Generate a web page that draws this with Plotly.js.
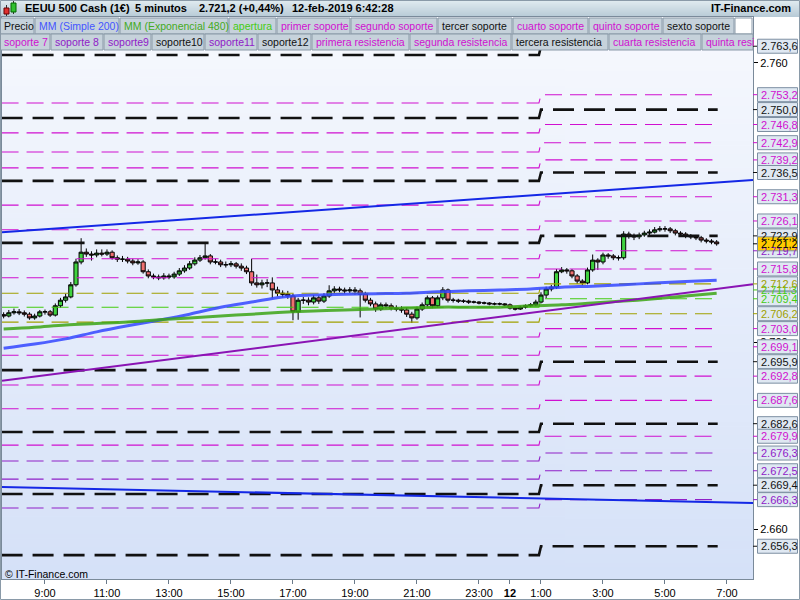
<!DOCTYPE html>
<html><head><meta charset="utf-8">
<script src="https://cdn.plot.ly/plotly-3.0.1.min.js"></script>
<style>html,body{margin:0;padding:0;background:#fff;}#chart{width:800px;height:600px;}</style>
</head><body><div id="chart"></div>
<script>
// ---------- DATA ----------
const candleStart = '2019-02-11 07:40';
const candleStepMin = 10;
const openP = [2706.0,2705.7,2706.4,2706.6,2706.4,2706.1,2705.3,2705.7,2706.6,2706.6,2705.9,2707.9,2709.1,2709.8,2712.4,2717.3,2719.4,2719.0,2718.8,2719.2,2719.0,2719.4,2718.2,2717.9,2717.9,2717.5,2717.1,2717.3,2715.2,2714.3,2714.1,2713.9,2714.3,2714.1,2714.7,2715.4,2716.0,2716.9,2717.7,2718.2,2718.6,2717.3,2717.3,2716.7,2716.7,2716.9,2716.4,2716.0,2715.2,2712.8,2712.4,2712.8,2712.8,2711.3,2710.6,2710.4,2710.0,2706.6,2709.1,2709.1,2708.7,2709.6,2708.9,2710.0,2711.1,2711.5,2711.3,2711.1,2711.3,2711.1,2710.4,2709.1,2708.3,2707.2,2708.1,2707.9,2707.4,2707.2,2707.0,2706.1,2705.3,2707.2,2708.1,2709.6,2707.9,2709.6,2711.3,2709.1,2709.1,2708.9,2708.9,2708.7,2708.7,2708.5,2708.5,2708.3,2708.3,2708.3,2708.1,2707.4,2707.2,2707.6,2707.9,2708.1,2708.7,2710.2,2711.5,2711.9,2715.2,2715.6,2715.4,2714.3,2713.2,2712.8,2715.6,2717.7,2717.3,2718.8,2718.6,2718.2,2718.2,2723.3,2722.9,2722.7,2723.1,2723.5,2723.7,2724.2,2724.4,2724.4,2724.0,2723.5,2723.3,2722.9,2722.7,2722.5,2722.0,2721.8,2721.6];
const highP = [2706.5,2707.0,2707.3,2707.2,2706.9,2706.5,2706.2,2707.0,2707.1,2707.0,2708.4,2709.6,2710.5,2713.0,2718.0,2722.4,2720.2,2719.6,2720.0,2720.0,2720.0,2719.8,2718.7,2718.6,2718.4,2718.0,2717.9,2717.7,2715.7,2714.8,2714.6,2714.9,2714.8,2715.2,2716.0,2716.6,2717.5,2718.3,2718.8,2721.6,2719.0,2718.0,2717.8,2717.4,2717.5,2717.3,2717.0,2716.5,2718.0,2714.6,2713.5,2713.6,2714.0,2712.0,2711.2,2711.1,2710.5,2709.6,2709.8,2709.7,2710.2,2710.1,2710.6,2712.3,2712.1,2712.0,2711.8,2711.9,2711.9,2711.6,2710.9,2709.6,2708.8,2708.6,2708.6,2708.4,2708.0,2707.8,2707.5,2706.6,2707.7,2708.6,2710.1,2710.0,2710.1,2711.9,2711.6,2709.6,2709.4,2709.3,2709.2,2709.0,2708.9,2708.8,2708.7,2708.6,2708.6,2708.5,2708.4,2707.7,2707.9,2708.2,2708.5,2709.2,2710.8,2712.0,2712.4,2715.8,2716.2,2716.0,2715.8,2714.7,2713.6,2716.1,2718.9,2718.1,2719.3,2719.2,2719.0,2718.7,2723.9,2723.8,2723.4,2723.6,2724.0,2724.3,2724.8,2725.0,2725.0,2724.8,2724.4,2723.9,2723.7,2723.3,2723.1,2722.9,2722.4,2722.2,2722.0];
const lowP = [2705.2,2705.4,2706.0,2705.9,2705.6,2704.9,2704.9,2705.4,2706.0,2705.5,2705.6,2707.5,2708.6,2709.5,2712.0,2716.8,2718.4,2717.6,2718.3,2718.5,2718.6,2717.8,2717.3,2717.3,2717.0,2716.6,2716.7,2714.8,2713.8,2713.6,2713.4,2713.5,2713.6,2713.7,2714.3,2715.0,2715.6,2716.5,2717.3,2717.8,2716.8,2716.8,2716.2,2716.1,2716.2,2715.9,2715.4,2714.7,2712.2,2711.8,2711.6,2711.9,2709.5,2709.9,2709.7,2709.4,2704.8,2704.9,2708.3,2708.0,2708.2,2708.3,2708.5,2709.6,2710.6,2710.8,2710.5,2710.6,2710.3,2705.4,2708.6,2707.8,2706.6,2706.8,2707.3,2706.9,2706.7,2706.4,2705.5,2704.2,2704.9,2706.8,2707.6,2707.4,2707.5,2709.1,2708.6,2708.6,2708.5,2708.5,2708.3,2708.4,2708.2,2708.2,2708.0,2708.0,2708.0,2707.8,2707.1,2706.9,2707.0,2707.3,2707.6,2707.8,2708.4,2709.5,2711.0,2711.5,2714.9,2714.8,2713.8,2712.6,2712.3,2712.5,2715.2,2715.6,2716.8,2718.0,2717.7,2717.6,2717.8,2722.3,2722.0,2722.2,2722.7,2723.1,2723.4,2723.8,2723.8,2723.5,2723.0,2722.8,2722.4,2722.2,2722.0,2721.5,2721.3,2721.1,2720.8];
const closeP = [2705.7,2706.4,2706.6,2706.4,2706.1,2705.3,2705.7,2706.6,2706.6,2705.9,2707.9,2709.1,2709.8,2712.4,2717.3,2719.4,2719.0,2718.8,2719.2,2719.0,2719.4,2718.2,2717.9,2717.9,2717.5,2717.1,2717.3,2715.2,2714.3,2714.1,2713.9,2714.3,2714.1,2714.7,2715.4,2716.0,2716.9,2717.7,2718.2,2718.6,2717.3,2717.3,2716.7,2716.7,2716.9,2716.4,2716.0,2715.2,2712.8,2712.4,2712.8,2712.8,2711.3,2710.6,2710.4,2710.0,2706.6,2709.1,2709.1,2708.7,2709.6,2708.9,2710.0,2711.1,2711.5,2711.3,2711.1,2711.3,2711.1,2710.4,2709.1,2708.3,2707.2,2708.1,2707.9,2707.4,2707.2,2707.0,2706.1,2705.3,2707.2,2708.1,2709.6,2707.9,2709.6,2711.3,2709.1,2709.1,2708.9,2708.9,2708.7,2708.7,2708.5,2708.5,2708.3,2708.3,2708.3,2708.1,2707.4,2707.2,2707.6,2707.9,2708.1,2708.7,2710.2,2711.5,2711.9,2715.2,2715.6,2715.4,2714.3,2713.2,2712.8,2715.6,2717.7,2717.3,2718.8,2718.6,2718.2,2718.2,2723.3,2722.9,2722.7,2723.1,2723.5,2723.7,2724.2,2724.4,2724.4,2724.0,2723.5,2723.3,2722.9,2722.7,2722.5,2722.0,2721.8,2721.6,2721.2];

const maTimes = ['2019-02-11 07:40','2019-02-11 08:40','2019-02-11 09:40','2019-02-11 10:40','2019-02-11 11:40','2019-02-11 12:40','2019-02-11 13:40','2019-02-11 14:40','2019-02-11 15:40','2019-02-11 16:40','2019-02-11 17:40','2019-02-11 18:40','2019-02-11 19:40','2019-02-11 20:40','2019-02-11 21:40','2019-02-11 22:40','2019-02-11 23:40','2019-02-12 00:40','2019-02-12 01:40','2019-02-12 02:40','2019-02-12 03:40','2019-02-12 04:40','2019-02-12 05:40','2019-02-12 06:40'];
const sma200 = [2698.8,2699.7,2700.8,2702.3,2703.6,2704.8,2706.1,2707.6,2708.7,2709.8,2710.2,2710.4,2710.5,2710.6,2710.9,2711.1,2711.3,2711.5,2711.9,2712.1,2712.4,2712.8,2713.1,2713.4];
const ema480 = [2702.9,2703.3,2703.8,2704.1,2704.4,2704.9,2705.3,2705.7,2706.1,2706.5,2706.8,2707.0,2707.2,2707.4,2707.6,2707.6,2707.6,2707.9,2708.1,2708.5,2708.9,2709.4,2710.0,2710.6];

const levelTimes = ['2019-02-11 07:36','2019-02-12 00:56','2019-02-12 01:00','2019-02-12 06:42'];
const levelLeft  = [2761.7,2751.4,2748.2,2745.0,2740.9,2737.5,2734.7,2729.5,2724.2,2721.4,2718.0,2713.9,2710.6,2707.6,2704.4,2701.2,2697.3,2694.1,2690.9,2685.8,2680.8,2678.0,2674.6,2670.7,2667.5,2664.5,2654.4];
const levelRight = [2763.6,2753.2,2750.0,2746.8,2742.9,2739.2,2736.5,2731.3,2726.1,2722.9,2719.7,2715.8,2712.6,2709.4,2706.2,2703.0,2699.1,2695.9,2692.8,2687.6,2682.6,2679.9,2676.3,2672.5,2669.4,2666.3,2656.3];
const levelKind  = ['k','m','k','m','m','m','k','m','m','k','m','m','o','g','o','m','m','k','m','m','k','m','p','p','k','p','k'];

const trendTimes = ['2019-02-11 07:36:50','2019-02-12 07:50:20'];
const trendUpper = [2723.7,2734.9];
const trendLower = [2669.0,2665.6];
const trendPurple = [2691.8,2712.5];

const xTickVals = ['2019-02-11 09:00','2019-02-11 11:00','2019-02-11 13:00','2019-02-11 15:00','2019-02-11 17:00','2019-02-11 19:00','2019-02-11 21:00','2019-02-11 23:00','2019-02-12 00:00','2019-02-12 01:00','2019-02-12 03:00','2019-02-12 05:00','2019-02-12 07:00'];
const xTickText = ['9:00','11:00','13:00','15:00','17:00','19:00','21:00','23:00','<b>12</b>','1:00','3:00','5:00','7:00'];
const yTickVals = [2660,2700,2760];
const yTickText = ['2.660','2.700','2.760'];

// right-side value labels
const tagVals  = [2763.6,2753.2,2750.0,2746.8,2742.9,2739.2,2736.5,2731.3,2726.1,2722.9,2719.7,2715.8,2711.3,2712.6,2709.4,2706.2,2703.0,2699.1,2695.9,2692.8,2687.6,2682.6,2679.9,2676.3,2672.5,2669.4,2666.3,2656.3,2721.2];
const tagTexts = ['2.763,6','2.753,2','2.750,0','2.746,8','2.742,9','2.739,2','2.736,5','2.731,3','2.726,1','2.722,9','2.719,7','2.715,8','2.711,3','2.712,6','2.709,4','2.706,2','2.703,0','2.699,1','2.695,9','2.692,8','2.687,6','2.682,6','2.679,9','2.676,3','2.672,5','2.669,4','2.666,3','2.656,3','2.721,2'];
const tagKind  = ['k','m','k','m','m','m','k','m','m','k','p','m','g','o','g','o','m','m','k','m','m','k','m','p','p','k','p','k','price'];

const legendRow1 = [['Precio','k',0,34],['MM (Simple 200)','b',35,119],['MM (Exponencial 480)','e',120,228],['apertura','g',229,276],['primer soporte','m',277,350],['segundo soporte','m',351,437],['tercer soporte','k',438,512],['cuarto soporte','m',513,588],['quinto soporte','m',589,662],['sexto soporte','k',663,734]];
const legendRow2 = [['soporte 7','m',0,50],['soporte 8','p',51,103],['soporte9','p',104,151],['soporte10','k',152,204],['soporte11','p',205,257],['soporte12','k',258,311],['primera resistencia','m',312,409],['segunda resistencia','m',410,511],['tercera resistencia','k',512,608],['cuarta resistencia','m',609,701],['quinta resi','m',702,753]];

// ---------- STYLE ----------
const COL = {k:'#111111', m:'#d010d0', p:'#9020c8', o:'#a0a000', g:'#44cc11', b:'#4455ff', e:'#44aa22', price:'#000000'};
const FONT = 'Liberation Sans, Arial, sans-serif';
const L = 2, R = 753, T = 17, B = 579;
const PX = x => (x - L) / (R - L);
const PY = y => (B - y) / (B - T);

function fmt(ms){const d=new Date(ms);const p=n=>String(n).padStart(2,'0');return d.getUTCFullYear()+'-'+p(d.getUTCMonth()+1)+'-'+p(d.getUTCDate())+' '+p(d.getUTCHours())+':'+p(d.getUTCMinutes());}
const t0 = Date.UTC(2019,1,11,7,40);
const candleTimes = closeP.map((_, i) => fmt(t0 + i * candleStepMin * 60000));

const traces = [];
levelRight.forEach((rv, i) => {
  const k = levelKind[i];
  const isK = k === 'k';
  traces.push({type:'scatter', mode:'lines', x:levelTimes, y:[levelLeft[i],levelLeft[i],rv,rv],
    line:{color:COL[k], width:isK?2.6:1.1, dash:isK?'21px,10px':'17px,8px'}, hoverinfo:'skip', showlegend:false});
});
traces.push({type:'candlestick', x:candleTimes, open:openP, high:highP, low:lowP, close:closeP,
  increasing:{line:{color:'#000000', width:1}, fillcolor:'#3fd23f'},
  decreasing:{line:{color:'#000000', width:1}, fillcolor:'#f07070'},
  whiskerwidth:0, hoverinfo:'skip', showlegend:false});
traces.push({type:'scatter', mode:'lines', x:maTimes, y:sma200, line:{color:'rgba(50,70,255,0.85)', width:3, shape:'spline'}, showlegend:false, hoverinfo:'skip'});
traces.push({type:'scatter', mode:'lines', x:maTimes, y:ema480, line:{color:'rgba(60,165,20,0.85)', width:3, shape:'spline'}, showlegend:false, hoverinfo:'skip'});
traces.push({type:'scatter', mode:'lines', x:trendTimes, y:trendUpper, line:{color:'#1428e6', width:2}, showlegend:false, hoverinfo:'skip'});
traces.push({type:'scatter', mode:'lines', x:trendTimes, y:trendLower, line:{color:'#1428e6', width:2}, showlegend:false, hoverinfo:'skip'});
traces.push({type:'scatter', mode:'lines', x:trendTimes, y:trendPurple, line:{color:'#8a14b4', width:2}, showlegend:false, hoverinfo:'skip'});

// gradient images
function grad(c0, c1){const cv=document.createElement('canvas');cv.width=2;cv.height=256;const g=cv.getContext('2d');const gr=g.createLinearGradient(0,0,0,256);gr.addColorStop(0,c0);gr.addColorStop(1,c1);g.fillStyle=gr;g.fillRect(0,0,2,256);return cv.toDataURL();}

const shapes = [];
const annotations = [];
// header icon
shapes.push({type:'line', xref:'paper', yref:'paper', x0:PX(6.5), x1:PX(6.5), y0:PY(16), y1:PY(5), line:{color:'#333', width:1}});
shapes.push({type:'rect', xref:'paper', yref:'paper', x0:PX(4), x1:PX(9), y0:PY(14), y1:PY(8), fillcolor:'#e03030', line:{color:'#600', width:1}});
shapes.push({type:'line', xref:'paper', yref:'paper', x0:PX(13.5), x1:PX(13.5), y0:PY(14), y1:PY(1), line:{color:'#333', width:1}});
shapes.push({type:'rect', xref:'paper', yref:'paper', x0:PX(11), x1:PX(16), y0:PY(12), y1:PY(3), fillcolor:'#30c030', line:{color:'#060', width:1}});
const hdr = [['EEUU 500 Cash (1€)',23],['5 minutos',133],['2.721,2 (+0,44%)',197],['12-feb-2019 6:42:28',290]];
hdr.forEach(h => annotations.push({xref:'paper', yref:'paper', x:PX(h[1]), y:PY(8.5), xanchor:'left', yanchor:'middle', text:'<b>'+h[0]+'</b>', showarrow:false, font:{family:FONT, size:11, color:'#000'}}));
annotations.push({xref:'paper', yref:'paper', x:PX(793), y:PY(8.5), xanchor:'right', yanchor:'middle', text:'<b>IT-Finance.com</b>', showarrow:false, font:{family:FONT, size:11, color:'#000'}});
// legend rows
function legendRow(row, y0, y1){
  row.forEach(it => {
    shapes.push({type:'rect', xref:'paper', yref:'paper', x0:PX(it[2]), x1:PX(Math.min(it[3],753)), y0:PY(y1), y1:PY(y0), fillcolor:'#c6d2db', line:{color:'#8a9aa8', width:1}, layer:'above'});
    annotations.push({xref:'paper', yref:'paper', x:PX(it[2]+2), y:PY((y0+y1)/2), xanchor:'left', yanchor:'middle', text:it[0], showarrow:false, font:{family:FONT, size:10.5, color:COL[it[1]]}});
  });
}
legendRow(legendRow1, 18, 34);
shapes.push({type:'rect', xref:'paper', yref:'paper', x0:PX(735), x1:PX(752), y0:PY(34), y1:PY(18), fillcolor:'#ffffff', line:{color:'#8a9aa8', width:1}, layer:'above'});
legendRow(legendRow2, 34, 50);
// right value tags
tagVals.forEach((v, i) => {
  const k = tagKind[i];
  const isPrice = k === 'price';
  shapes.push({type:'line', xref:'paper', yref:'y', x0:1, x1:PX(757), y0:v, y1:v, line:{color:isPrice?'#000':COL[k], width:1}});
  shapes.push({type:'rect', xref:'paper', yref:'y', ysizemode:'pixel', yanchor:v, y0:-7, y1:7, x0:PX(757.5), x1:PX(797.5), fillcolor:isPrice?'#ffcc00':'#dfe8f2', line:{color:'#7d8fa2', width:1}, layer:'above'});
  annotations.push({xref:'paper', yref:'y', x:PX(759), y:v, xanchor:'left', yanchor:'middle', text:tagTexts[i], showarrow:false, font:{family:FONT, size:11, color:isPrice?'#000':COL[k]}});
});
// outer frame
shapes.push({type:'rect', xref:'paper', yref:'paper', x0:PX(0.5), x1:PX(799.5), y0:PY(599.5), y1:PY(0.5), line:{color:'#8a9aa8', width:1}, fillcolor:'rgba(0,0,0,0)', layer:'above'});
// copyright
annotations.push({xref:'paper', yref:'paper', x:PX(3), y:PY(574), xanchor:'left', yanchor:'middle', text:'© IT-Finance.com', showarrow:false, font:{family:FONT, size:10.5, color:'#000'}});

const layout = {
  width:800, height:600,
  margin:{l:L, r:800-R, t:T, b:600-B, pad:0},
  paper_bgcolor:'#ffffff', plot_bgcolor:'rgba(0,0,0,0)',
  showlegend:false, boxgap:0.2, boxgroupgap:0,
  font:{family:FONT, size:11, color:'#000'},
  images:[
    {source:grad('#f7f9fe','#d5e1f8'), xref:'paper', yref:'paper', x:0, y:1, sizex:1, sizey:1, sizing:'stretch', layer:'below'},
    {source:grad('#e2ecf1','#b7cad6'), xref:'paper', yref:'paper', x:PX(0), y:PY(0), sizex:PX(800)-PX(0), sizey:PY(0)-PY(17), sizing:'stretch', layer:'below'}
  ],
  xaxis:{type:'date', range:['2019-02-11 07:36:50','2019-02-12 07:50:20'], tickvals:xTickVals, ticktext:xTickText,
    ticks:'outside', ticklen:4, tickcolor:'#6a7a8a', showgrid:false, zeroline:false, showline:true, mirror:true, linecolor:'#7a8a9a', linewidth:1,
    rangeslider:{visible:false}, tickfont:{family:FONT, size:11, color:'#000'}, fixedrange:true},
  yaxis:{side:'right', range:[2649.27, 2769.87], tickvals:yTickVals, ticktext:yTickText, ticks:'outside', ticklen:4, tickcolor:'#000',
    showgrid:false, zeroline:false, showline:true, mirror:true, linecolor:'#7a8a9a', linewidth:1, tickfont:{family:FONT, size:11, color:'#000'}, fixedrange:true},
  shapes:shapes, annotations:annotations
};
Plotly.newPlot('chart', traces, layout, {staticPlot:true, displayModeBar:false});
</script></body></html>
